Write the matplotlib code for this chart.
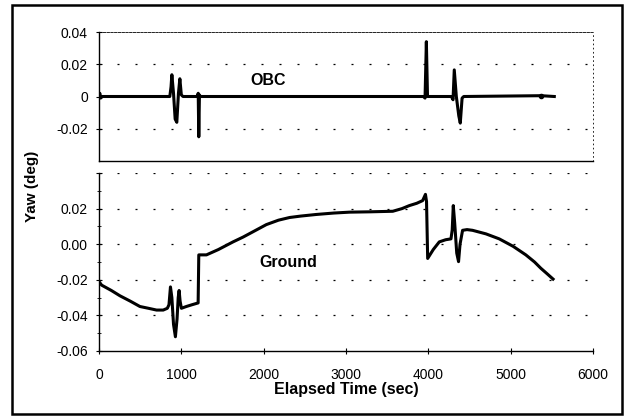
import matplotlib
matplotlib.use("Agg")
import matplotlib.pyplot as plt
from matplotlib.patches import Rectangle
from matplotlib.ticker import MultipleLocator

plt.rcParams['font.family'] = ['Liberation Sans', 'DejaVu Sans']

# OBC yaw (deg) vs elapsed time (sec)
obc_t = [0, 10, 20, 40, 860, 875, 885, 905, 925, 945, 965, 982, 1000, 1020,
         1195, 1205, 1212, 1220, 1230, 1250, 3940, 3960, 3976, 3990, 4010,
         4280, 4300, 4315, 4340, 4370, 4388, 4410, 4430, 5370, 5530]
obc_y = [0.0, 0.002, -0.001, 0.0, 0.0, 0.006, 0.0135, 0.002, -0.014, -0.016, 0.002, 0.011, 0.001, 0.0,
         0.0, 0.002, -0.025, 0.001, 0.0, 0.0, 0.0, -0.001, 0.034, 0.0, 0.0,
         0.0, -0.002, 0.0165, 0.0, -0.012, -0.0165, -0.001, 0.0, 0.0005, 0.0]

# Ground yaw (deg) vs elapsed time (sec)
gnd_t = [0, 32, 150, 255, 380, 497, 600, 699, 780, 830, 850, 868, 885, 905, 928, 948, 962, 973,
         985, 1001, 1061, 1130, 1204, 1212, 1305, 1450, 1628, 1750, 1871, 2032, 2180, 2315,
         2450, 2638, 2850, 3042, 3300, 3568, 3680, 3770, 3860, 3931, 3965, 3978, 3992, 4060,
         4133, 4210, 4275, 4290, 4303, 4320, 4345, 4367, 4385, 4416, 4470, 4537, 4700, 4861,
         5030, 5184, 5290, 5366, 5440, 5515]
gnd_y = [-0.021, -0.023, -0.026, -0.029, -0.032, -0.035, -0.036, -0.037, -0.037, -0.036, -0.034, -0.024,
         -0.030, -0.045, -0.052, -0.042, -0.030, -0.026, -0.032, -0.036, -0.035, -0.034, -0.033,
         -0.006, -0.006, -0.003, 0.0013, 0.004, 0.007, 0.011, 0.0135, 0.015, 0.0158, 0.0167, 0.0175,
         0.018, 0.0182, 0.0185, 0.020, 0.0217, 0.023, 0.0245, 0.028, 0.024, -0.008, -0.003, 0.0013,
         0.0025, 0.003, 0.008, 0.0217, 0.012, -0.005, -0.0098, 0.0, 0.0078, 0.0082, 0.0078, 0.0058,
         0.003, -0.0012, -0.006, -0.010, -0.0135, -0.0165, -0.0196]

top_ticks = [-0.02, 0.0, 0.02, 0.04]
top_labels = ['-0.02', '0', '0.02', '0.04']
bot_ticks = [-0.06, -0.04, -0.02, 0.0, 0.02, 0.04]
bot_labels = ['-0.06', '-0.04', '-0.02', '0.00', '0.02', '']
x_ticks = [0, 1000, 2000, 3000, 4000, 5000, 6000]

fig = plt.figure(figsize=(6.27, 4.17), dpi=100)
W, H = 627, 417

def ax_rect(x0, y0, x1, y1):
    return [x0 / W, 1 - y1 / H, (x1 - x0) / W, (y1 - y0) / H]

grid_kw = dict(color='black', linewidth=0.9, dashes=(1.6, 12.8))

ax1 = fig.add_axes(ax_rect(99, 32, 593, 161))
ax2 = fig.add_axes(ax_rect(99, 173, 593, 351))

for ax in (ax1, ax2):
    ax.set_xlim(0, 6000)
    for s in ax.spines.values():
        s.set_linewidth(1.0)
    ax.tick_params(axis='both', direction='inout', length=5, width=0.8,
                   labelsize=10, pad=3)
    ax.tick_params(axis='y', pad=5.5)

# Top panel
ax1.plot(obc_t, obc_y, color='black', linewidth=2.2, solid_joinstyle='round')
ax1.plot([5370], [0.0005], 'o', color='black', markersize=3)
ax1.set_ylim(-0.04, 0.04)
ax1.set_yticks(top_ticks)
ax1.set_yticklabels(top_labels)
ax1.set_xticks([])
for yv in [0.02, -0.02]:
    ax1.axhline(yv, **grid_kw)
ax1.spines['top'].set_linestyle((0, (3, 1.5)))
ax1.spines['top'].set_linewidth(0.6)
ax1.spines['right'].set_linestyle((0, (1, 4)))
ax1.spines['right'].set_linewidth(0.6)
ax1.text(2060, 0.010, 'OBC', fontsize=11.5, fontweight='bold', ha='center', va='center')

# Bottom panel
ax2.plot(gnd_t, gnd_y, color='black', linewidth=2.2, solid_joinstyle='round')
ax2.set_ylim(-0.06, 0.04)
ax2.set_yticks(bot_ticks)
ax2.set_yticklabels(bot_labels)
ax2.yaxis.set_minor_locator(MultipleLocator(0.01))
ax2.tick_params(axis='y', which='minor', direction='inout', length=3, width=0.6)
ax2.set_xticks(x_ticks)
ax2.set_xticklabels([str(v) for v in x_ticks])
ax2.tick_params(axis='x', pad=10)
for yv in [0.04, 0.02, 0.0, -0.02, -0.04]:
    ax2.axhline(yv, **grid_kw)
ax2.spines['top'].set_visible(False)
ax2.spines['right'].set_visible(False)
ax2.text(2300, -0.0105, 'Ground', fontsize=11.5, fontweight='bold', ha='center', va='center')
ax2.set_xlabel('Elapsed Time (sec)', fontsize=11.5, fontweight='bold', labelpad=0)

fig.text(32 / W, 1 - 186 / H, 'Yaw (deg)', rotation=90, fontsize=11, fontweight='bold',
         ha='center', va='center')

# Outer border
fig.patches.append(Rectangle((12 / W, 1 - 414 / H), 610 / W, 409 / H, transform=fig.transFigure,
                             fill=False, edgecolor='black', linewidth=1.8))

fig.savefig('out.png', dpi=100)
